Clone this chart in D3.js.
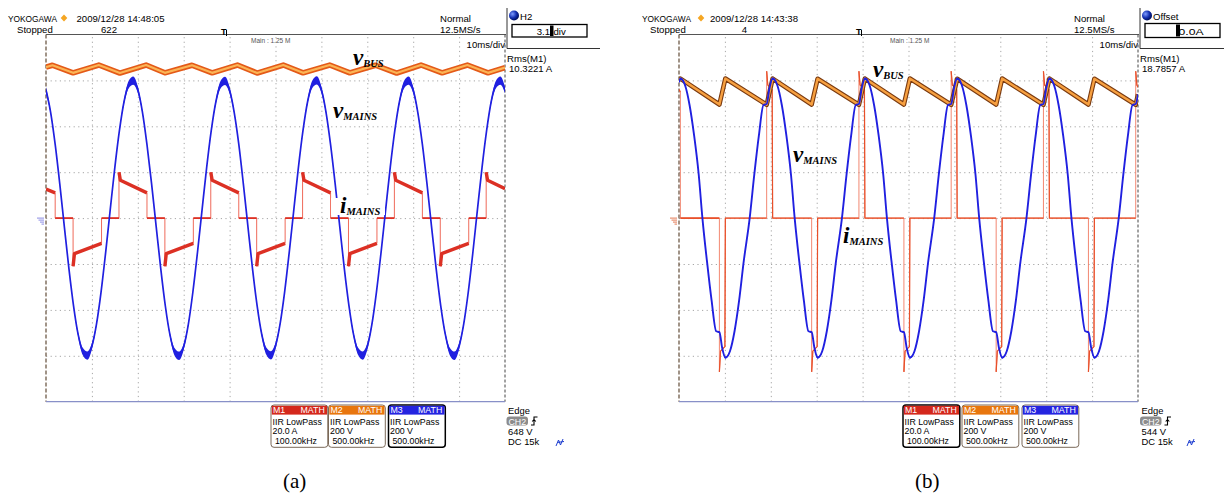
<!DOCTYPE html>
<html><head><meta charset="utf-8">
<script src="https://cdn.jsdelivr.net/npm/d3@7"></script>
<style>
html,body{margin:0;padding:0;background:#fff;}
svg{display:block;}
</style></head><body>
<svg id="chart" width="1224" height="496"></svg>
<script>
// ---------------- DATA ----------------
// grid divisions: 10 ms/div horizontally, 200 V/div (20 A/div) vertically
const timeDivs = [0,10,20,30,40,50,60,70,80,90,100];           // ms
const voltDivs = [-800,-600,-400,-200,0,200,400,600,800];       // V

// (a) mains voltage, sampled every 1 ms (V)
const mainsA_t = d3.range(0,101,1);
const mainsA_v = [558,462,321,149,-38,-221,-382,-507,-581,-599,-558,-462,-321,-149,38,221,382,507,581,599,
560,463,320,150,-36,-220,-383,-508,-582,-600,-560,-464,-322,-150,36,220,381,506,580,598,
557,461,322,148,-38,-222,-382,-506,-580,-598,-557,-461,-320,-148,38,222,383,508,582,600,
559,462,320,149,-37,-221,-381,-507,-581,-599,-559,-463,-321,-149,37,221,382,507,581,599,
558,461,321,150,-38,-220,-382,-507,-582,-600,-558,-462,-322,-150,38,221,382,508,581,599,
558];
// (a) bus voltage (V) at turning points
const busA_t = [0,1.4,5.9,11.5,16.1,21.8,25.9,31.8,36.2,41.7,46.0,51.7,56.0,61.8,66.2,71.8,76.4,81.7,86.3,91.8,96.3,100];
const busA_v = [658,666,633,667,632,667,633,666,633,667,632,667,633,667,633,666,632,667,633,667,633,656];
// (a) mains current (A) at breakpoints
const curA_t = [0,2.0,2.0,
 5.9,5.9,6.2,12.1,12.1,15.9,15.9,16.2,22.0,22.0,
 25.9,25.9,26.2,32.1,32.1,35.9,35.9,36.2,42.0,42.0,
 45.9,45.9,46.2,52.1,52.1,55.9,55.9,56.2,62.0,62.0,
 65.9,65.9,66.2,72.1,72.1,75.9,75.9,76.2,82.0,82.0,
 85.9,85.9,86.2,92.1,92.1,95.9,95.9,96.2,100];
const curA_v = [12.6,11.0,0,
 0,-21,-15.5,-11,0,0,20,16.5,11,0,
 0,-21,-15.5,-11,0,0,20,16.5,11,0,
 0,-21,-15.5,-11,0,0,20,16.5,11,0,
 0,-21,-15.5,-11,0,0,20,16.5,11,0,
 0,-21,-15.5,-11,0,0,20,16.5,12.8];

// (b) mains voltage (V)
const mainsB_t = [0,0.3,1.3,2.3,3.3,4.3,
 5.1,6.1,7.1,8.1,8.8,9.4,10.1,11.1,12.1,13.1,14.1,
 15.4,16.4,17.4,18.4,19.1,19.7,20.4,21.4,22.4,23.4,24.4,
 25.2,26.2,27.2,28.2,28.9,29.5,30.2,31.2,32.2,33.2,34.2,
 35.5,36.5,37.5,38.5,39.2,39.8,40.5,41.5,42.5,43.5,44.5,
 45.3,46.3,47.3,48.3,49.0,49.6,50.3,51.3,52.3,53.3,54.3,
 55.6,56.6,57.6,58.6,59.3,59.9,60.6,61.6,62.6,63.6,64.6,
 65.4,66.4,67.4,68.4,69.1,69.7,70.4,71.4,72.4,73.4,74.4,
 75.7,76.7,77.7,78.7,79.4,80.0,80.7,81.7,82.7,83.7,84.7,
 85.5,86.5,87.5,88.5,89.2,89.8,90.5,91.5,92.5,93.5,94.5,
 95.8,96.8,97.8,98.8,99.5,100];
const mainsB_v = [592,608,580,493,359,189,
 0,-189,-359,-493,-497,-565,-608,-580,-493,-359,-189,
 0,189,359,493,497,565,608,580,493,359,189,
 0,-189,-359,-493,-497,-565,-608,-580,-493,-359,-189,
 0,189,359,493,497,565,608,580,493,359,189,
 0,-189,-359,-493,-497,-565,-608,-580,-493,-359,-189,
 0,189,359,493,497,565,608,580,493,359,189,
 0,-189,-359,-493,-497,-565,-608,-580,-493,-359,-189,
 0,189,359,493,497,565,608,580,493,359,189,
 0,-189,-359,-493,-497,-565,-608,-580,-493,-359,-189,
 0,189,359,493,497,540];
// (b) bus voltage (V)
const busB_t = [0,0.3,8.8,10.1,19.1,20.4,28.9,30.2,39.2,40.5,49.0,50.3,59.3,60.6,69.1,70.4,79.4,80.7,89.2,90.5,99.5,100];
const busB_v = [600,608,495,608,494,608,495,607,494,608,495,608,494,607,495,608,494,608,495,607,494,540];
// (b) mains current (A)
const curB_t = [0,0.3,0.3,
 8.8,8.8,9.05,10.0,10.1, 19.1,19.1,19.35,20.3,20.4,
 28.9,28.9,29.15,30.1,30.2, 39.2,39.2,39.45,40.4,40.5,
 49.0,49.0,49.25,50.2,50.3, 59.3,59.3,59.55,60.5,60.6,
 69.1,69.1,69.35,70.3,70.4, 79.4,79.4,79.65,80.6,80.7,
 89.2,89.2,89.45,90.4,90.5, 99.5,99.5,99.75,100];
const curB_v = [56,55,0,
 0,-67,-58,-56,0, 0,64,58,56,0,
 0,-67,-58,-56,0, 0,64,58,56,0,
 0,-67,-58,-56,0, 0,64,58,56,0,
 0,-67,-58,-56,0, 0,64,58,56,0,
 0,-67,-58,-56,0, 0,64,58,57];

// texts
const headerA = ["YOKOGAWA","2009/12/28 14:48:05","Stopped","622","Normal","12.5MS/s","Main : 1.25 M","10ms/div"];
const headerB = ["YOKOGAWA","2009/12/28 14:43:38","Stopped","4","Normal","12.5MS/s","Main : 1.25 M","10ms/div"];
const sideA = ["H2","3.1","div","Rms(M1)","10.3221 A"];
const sideB = ["Offset","","0.0A","Rms(M1)","18.7857 A"];
const mathNames = ["M1","M2","M3"];
const mathLines = [["IIR LowPass","20.0 A"," 100.00kHz"],["IIR LowPass","200 V"," 500.00kHz"],["IIR LowPass","200 V"," 500.00kHz"]];
const trigA = ["Edge","CH2","648 V","DC 15k"];
const trigB = ["Edge","CH2","544 V","DC 15k"];
const traceLabels = [["v","BUS"],["v","MAINS"],["i","MAINS"]];
const captions = ["(a)","(b)"];

// ---------------- DRAWING ----------------
const SANS = "'Liberation Sans', Arial, sans-serif";
const SERIF = "'Liberation Serif', 'Times New Roman', serif";
const svg = d3.select("#chart");
const defs = svg.append("defs");
const yTop = 34.5, yBot = 401.7;
const yV = d3.scaleLinear().domain([-800,800]).range([yBot,yTop]);
const yI = d3.scaleLinear().domain([-80,80]).range([yBot,yTop]);

const grad = defs.append("radialGradient").attr("id","ball").attr("cx","35%").attr("cy","35%").attr("r","65%");
grad.append("stop").attr("offset","0%").attr("stop-color","#7f9cff");
grad.append("stop").attr("offset","60%").attr("stop-color","#1430b0");
grad.append("stop").attr("offset","100%").attr("stop-color","#001060");

const mathColors = ["#d4281c","#e8760e","#2424e0"];

const layouts = [
 {id:"a", x0:46, x1:505, hdr:headerA, side:sideA, trig:trigA, selected:2,
  mains:[mainsA_t,mainsA_v], bus:[busA_t,busA_v], cur:[curA_t,curA_v],
  pos:{brand:8, diamond:64, date:76.5, stop:17, count:117, T:224, norm:440, main:251, gnd:"#8080e0"},
  boxes:[271,328.5,388.5], edge:508, filt:556, sideEnd:600,
  labels:[[353,65],[333,118],[340,213]], labelBg:2, cap:283,
  busOuter:"#e45a18", busInner:"#fbb556", busW:[5.5,2.2], curColor:"#dc3024", blueGain:4.2, blueThr:300},
 {id:"b", x0:679, x1:1138, hdr:headerB, side:sideB, trig:trigB, selected:0,
  mains:[mainsB_t,mainsB_v], bus:[busB_t,busB_v], cur:[curB_t,curB_v],
  pos:{brand:642, diamond:701, date:710, stop:650, count:747, T:859, norm:1074, main:890, gnd:"#e06a40"},
  boxes:[903,962,1022], edge:1141.5, filt:1187, sideEnd:1224,
  labels:[[873,77],[793,162],[843,243]], labelBg:-1, cap:915,
  busOuter:"#7a3a10", busInner:"#f7a040", busW:[4.6,2.4], curColor:"#e8502a", blueGain:1.0, blueThr:380}
];

function txt(g,x,y,s,size,opts={}){
  const t=g.append("text").attr("x",x).attr("y",y).style("font-family",SANS).attr("font-size",size).text(s);
  if(opts.anchor) t.attr("text-anchor",opts.anchor);
  if(opts.fill) t.attr("fill",opts.fill);
  if(opts.weight) t.attr("font-weight",opts.weight);
  if(opts.len) t.attr("textLength",opts.len).attr("lengthAdjust","spacingAndGlyphs");
  return t;
}

layouts.forEach((P,pi)=>{
  const g = svg.append("g");
  const x = d3.scaleLinear().domain([0,100]).range([P.x0,P.x1]);
  const w = P.x1-P.x0, h = yBot-yTop;

  defs.append("clipPath").attr("id","clip"+P.id).append("rect")
    .attr("x",P.x0).attr("y",yTop).attr("width",w).attr("height",h);

  // grid via axes
  const gx = g.append("g").attr("transform",`translate(0,${yBot})`)
    .call(d3.axisBottom(x).tickValues(timeDivs.slice(1,-1)).tickSize(-h).tickFormat(""));
  gx.select(".domain").remove();
  gx.selectAll(".tick line").attr("stroke","#a6a6a6").attr("stroke-dasharray","1.2,3.4");
  const gy = g.append("g").attr("transform",`translate(${P.x0},0)`)
    .call(d3.axisLeft(yV).tickValues(voltDivs.slice(1,-1)).tickSize(-w).tickFormat(""));
  gy.select(".domain").remove();
  gy.selectAll(".tick line").attr("stroke","#a6a6a6").attr("stroke-dasharray","1.2,3.4");

  // frame
  g.append("line").attr("x1",P.x0).attr("x2",P.x1+1).attr("y1",yTop).attr("y2",yTop).attr("stroke","#555").attr("stroke-width",1);
  g.append("line").attr("x1",P.x0).attr("x2",P.x0).attr("y1",yTop).attr("y2",yBot).attr("stroke","#6e5a48").attr("stroke-width",1.3).attr("stroke-dasharray","4,2");
  g.append("line").attr("x1",P.x1).attr("x2",P.x1).attr("y1",yTop).attr("y2",yBot).attr("stroke","#444").attr("stroke-width",1).attr("stroke-dasharray","3,2");
  g.append("line").attr("x1",P.x0).attr("x2",P.x1).attr("y1",yBot).attr("y2",yBot).attr("stroke","#8890c8").attr("stroke-width",1.2);

  // ground marker
  const gm = g.append("g").attr("stroke",P.pos.gnd).attr("stroke-width",0.9);
  [0,1,2,3].forEach(k=>{
    gm.append("line").attr("x1",P.x0-9+k*1.5).attr("x2",P.x0-2).attr("y1",yI(0)+k*2).attr("y2",yI(0)+k*2);
  });

  const traces = g.append("g").attr("clip-path",`url(#clip${P.id})`);

  // current (red)
  const cur = d3.zip(P.cur[0],P.cur[1]);
  const lineI = d3.line().x(d=>x(d[0])).y(d=>yI(d[1]));
  traces.append("path").attr("d",lineI(cur)).attr("fill","none")
    .attr("stroke", pi===0?"#ef6a5a":"#f07a62").attr("stroke-width", pi===0?1:0.9);
  let runs=[], run=[cur[0]];
  for(let i=1;i<cur.length;i++){
    if(cur[i][0]-cur[i-1][0]>0.05){ run.push(cur[i]); }
    else { if(run.length>1) runs.push(run); run=[cur[i]]; }
  }
  if(run.length>1) runs.push(run);
  runs.forEach(r=>{
    const nonzero = r.some(d=>d[1]!==0);
    traces.append("path").attr("d",lineI(r)).attr("fill","none")
      .attr("stroke",P.curColor)
      .attr("stroke-width", pi===0 ? (nonzero?3.4:1.9) : (nonzero?1.2:1.6))
      .attr("stroke-linejoin","round");
  });

  // bus (orange)
  const lineV = d3.line().x(d=>x(d[0])).y(d=>yV(d[1]));
  const bus = d3.zip(P.bus[0],P.bus[1]);
  traces.append("path").attr("d",lineV(bus)).attr("fill","none").attr("stroke",P.busOuter).attr("stroke-width",P.busW[0]).attr("stroke-linejoin","round");
  traces.append("path").attr("d",lineV(bus)).attr("fill","none").attr("stroke",P.busInner).attr("stroke-width",P.busW[1]).attr("stroke-linejoin","round");

  // mains (blue) with noise band growing near the extremes
  const mains = d3.zip(P.mains[0],P.mains[1]);
  const hw = v => P.blueGain*Math.pow(Math.max(0,(Math.abs(v)-P.blueThr)/(600-P.blueThr)),2);
  const areaM = d3.area().x(d=>x(d[0])).y0(d=>yV(d[1])-hw(d[1])).y1(d=>yV(d[1])+hw(d[1])).curve(d3.curveMonotoneX);
  traces.append("path").attr("d",areaM(mains)).attr("fill","#2020e0");
  const lineM = d3.line().x(d=>x(d[0])).y(d=>yV(d[1])).curve(d3.curveMonotoneX);
  traces.append("path").attr("d",lineM(mains)).attr("fill","none").attr("stroke","#2020e0").attr("stroke-width",pi===0?1.7:1.9);

  // trace labels
  traceLabels.forEach((L,li)=>{
    const [lx,ly]=P.labels[li];
    if(li===P.labelBg){
      g.append("rect").attr("x",lx-9).attr("y",ly-15).attr("width",54).attr("height",17).attr("fill","#fff");
    }
    const t=g.append("text").attr("x",lx).attr("y",ly)
      .style("font-family",SERIF)
      .attr("font-style","italic").attr("font-weight","bold").attr("font-size",23).attr("fill","#000");
    t.append("tspan").text(L[0]);
    t.append("tspan").attr("font-size",10.5).attr("dy",2).text(L[1]);
  });

  // header
  const H=P.hdr, p=P.pos;
  txt(g,p.brand,22,H[0],9.6,{len:49});
  g.append("path").attr("d",`M${p.diamond},${14.5} l3.3,3.5 l-3.3,3.5 l-3.3,-3.5 z`).attr("fill","#f5a623");
  txt(g,p.date,22,H[1],9.6);
  txt(g,p.stop,33,H[2],9.6);
  txt(g,p.count,33,H[3],9.6,{anchor:"end"});
  txt(g,p.T-3,35,"T",9,{weight:"bold"});
  g.append("line").attr("x1",p.T+2.5).attr("x2",p.T+2.5).attr("y1",30).attr("y2",36).attr("stroke","#000").attr("stroke-width",1);
  txt(g,p.norm,22,H[4],9.6);
  txt(g,p.norm,33,H[5],9.6);
  txt(g,p.main,43,H[6],6.5,{fill:"#555"});
  txt(g,P.x1,48,H[7],9.6,{anchor:"end"});

  // side panel
  const S=P.side, sx=P.x1+2;
  g.append("line").attr("x1",sx).attr("x2",sx).attr("y1",8).attr("y2",48.5).attr("stroke","#333");
  g.append("line").attr("x1",sx).attr("x2",P.sideEnd).attr("y1",48.5).attr("y2",48.5).attr("stroke","#333").attr("stroke-width",1.2);
  g.append("circle").attr("cx",sx+7).attr("cy",15.5).attr("r",5).attr("fill","url(#ball)");
  txt(g,sx+13,20,S[0],9.6);
  if(pi===0){
    g.append("rect").attr("x",sx+5).attr("y",24.5).attr("width",75).attr("height",12.5).attr("fill","#fff").attr("stroke","#000").attr("stroke-width",1.3);
    txt(g,sx+43,34.5,S[1],9.6,{anchor:"end"});
    g.append("rect").attr("x",sx+43).attr("y",25.5).attr("width",3.5).attr("height",10.5).attr("fill","#000");
    txt(g,sx+46.5,34.5,S[2],9.6);
  } else {
    g.append("rect").attr("x",sx+5).attr("y",23.5).attr("width",75).attr("height",14).attr("fill","#fff").attr("stroke","#000").attr("stroke-width",1.3);
    g.append("rect").attr("x",sx+36).attr("y",24.5).attr("width",4).attr("height",12).attr("fill","#000");
    txt(g,sx+38.5,34.5,S[2],9.6,{len:25});
  }
  txt(g,sx,61.5,S[3],9.6);
  txt(g,sx+2,72,S[4],9.6);

  // math boxes
  P.boxes.forEach((bx,bi)=>{
    const sel = bi===P.selected;
    const bw=56.8, by=405, bh=42.3;
    g.append("rect").attr("x",bx).attr("y",by).attr("width",bw).attr("height",bh).attr("rx",3)
      .attr("fill","#fff").attr("stroke",sel?"#000":"#7a6858").attr("stroke-width",sel?1.5:1);
    g.append("rect").attr("x",bx+0.8).attr("y",by+0.8).attr("width",bw-1.6).attr("height",8.8).attr("fill",mathColors[bi]);
    txt(g,bx+2,by+8.4,mathNames[bi],8.8,{fill:"#fff"});
    txt(g,bx+bw-3,by+8.4,"MATH",8.8,{fill:"#fff",anchor:"end"});
    mathLines[bi].forEach((s,k)=>{
      txt(g,bx+1.5,by+19.5+k*9.8,s,8.8,{fill:"#000"}).attr("xml:space","preserve");
    });
  });

  // trigger info
  const ex=P.edge, T=P.trig;
  txt(g,ex,413.5,T[0],9.4);
  g.append("rect").attr("x",ex-1.5).attr("y",416.5).attr("width",21.5).attr("height",9).attr("rx",3).attr("fill","#8c8c8c");
  txt(g,ex+0.5,424.5,T[1],8.8,{fill:"#fff"});
  g.append("path").attr("d",`M${ex+23},${425} h3 v-8 h3.5 M${ex+24.2},${421.5} l1.8,-2 l1.8,2`).attr("fill","none").attr("stroke","#000").attr("stroke-width",1.1);
  txt(g,ex,434.5,T[2],9.4);
  txt(g,ex,445,T[3],9.4);
  g.append("path").attr("d",`M${P.filt},${446} l2.5,-6 l2,5 l2.5,-6 M${P.filt+1},${442.5} l7,-1`).attr("fill","none").attr("stroke","#1f3fd0").attr("stroke-width",1);

  // caption
  g.append("text").attr("x",P.cap).attr("y",488).style("font-family",SERIF)
    .attr("font-size",21).text(captions[pi]);
});
</script>
</body></html>
